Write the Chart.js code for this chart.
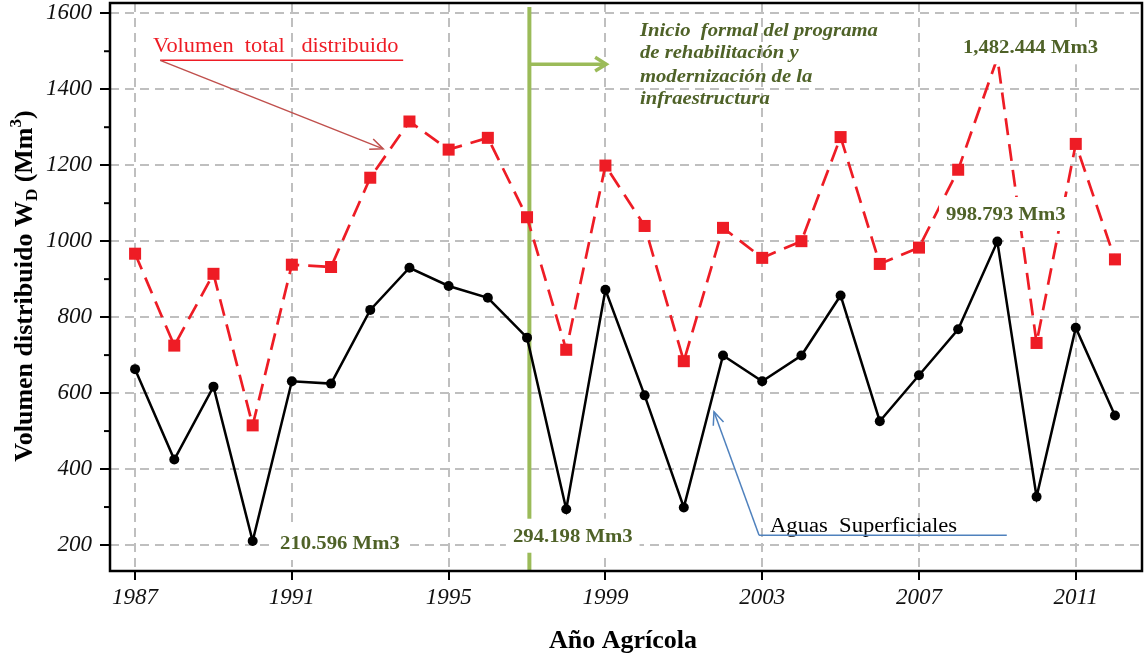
<!DOCTYPE html>
<html>
<head>
<meta charset="utf-8">
<script src="https://cdn.jsdelivr.net/npm/chart.js@4.4.0/dist/chart.umd.min.js"></script>
<style>
  html, body { margin: 0; padding: 0; background: #fff; }
</style>
</head>
<body>
<canvas id="chart" width="1146" height="655"></canvas>
<script>
// ====================================
// Data
// ====================================
const years = [1987, 1988, 1989, 1990, 1991, 1992, 1993, 1994, 1995, 1996, 1997, 1998, 1999,
               2000, 2001, 2002, 2003, 2004, 2005, 2006, 2007, 2008, 2009, 2010, 2011, 2012];
const volumenTotal = [967, 725, 914, 515, 938, 932, 1167, 1315, 1241, 1272, 1063, 714, 1199,
                      1040, 684, 1035, 956, 1000, 1274, 940, 983, 1188, 1482.444, 732, 1256, 952];
const aguasSuperficiales = [663, 425, 617, 210.596, 631, 625, 819, 930, 882, 851, 746, 294.198, 872,
                            594, 299, 699, 631, 699, 857, 526, 647, 768, 998.793, 327, 772, 541];
const xTicks = [1987, 1991, 1995, 1999, 2003, 2007, 2011];
const yTicks = [200, 400, 600, 800, 1000, 1200, 1400, 1600];
const yMinorTicks = [300, 500, 700, 900, 1100, 1300, 1500];

const programStart = 1997.06;
const SERIF = '"Liberation Serif", "Times New Roman", serif';
const OLIVE = '#4f6228';
const RED = '#ee1c25';

// ====================================
// Overlay drawing helpers
// ====================================
function arrowHead(ctx, x1, y1, x2, y2, len, spread) {
  const a = Math.atan2(y2 - y1, x2 - x1);
  ctx.beginPath();
  ctx.moveTo(x2 - len * Math.cos(a - spread), y2 - len * Math.sin(a - spread));
  ctx.lineTo(x2, y2);
  ctx.lineTo(x2 - len * Math.cos(a + spread), y2 - len * Math.sin(a + spread));
  ctx.stroke();
}

// the figure's annotation text is a bit wider than Liberation Serif
function stretchText(ctx, text, x, y, sx) {
  ctx.save();
  ctx.translate(x, y);
  ctx.scale(sx, 1);
  ctx.fillText(text, 0, 0);
  ctx.restore();
}

function boxedLabel(ctx, text, x, y) {
  const sx = 1.09;
  ctx.font = 'bold 19px ' + SERIF;
  const w = ctx.measureText(text).width * sx;
  ctx.fillStyle = '#fff';
  ctx.fillRect(x - 7, y - 23, w + 14, 34);
  ctx.fillStyle = OLIVE;
  ctx.textAlign = 'left';
  ctx.textBaseline = 'alphabetic';
  stretchText(ctx, text, x, y, sx);
}

const overlay = {
  id: 'overlay',
  beforeDraw(chart) {
    const ctx = chart.ctx;
    ctx.save();
    ctx.fillStyle = '#fff';
    ctx.fillRect(0, 0, chart.width, chart.height);
    ctx.restore();
  },
  beforeDatasetsDraw(chart) {
    const {ctx, chartArea, scales: {x, y}} = chart;
    const gx = x.getPixelForValue(programStart);
    ctx.save();
    ctx.strokeStyle = '#9bbb59';
    ctx.lineWidth = 4;
    ctx.beginPath();
    ctx.moveTo(gx, chartArea.top + 4);
    ctx.lineTo(gx, chartArea.bottom);
    ctx.stroke();
    // arrow towards the right
    const ay = y.getPixelForValue(1466);
    const ax2 = x.getPixelForValue(1999.02);
    ctx.lineWidth = 3.5;
    ctx.beginPath();
    ctx.moveTo(gx, ay);
    ctx.lineTo(ax2, ay);
    ctx.stroke();
    arrowHead(ctx, gx, ay, ax2, ay, 13, 0.55);
    ctx.restore();
  },
  afterDatasetsDraw(chart) {
    const {ctx, scales: {x, y}} = chart;
    const px = v => x.getPixelForValue(v);
    const py = v => y.getPixelForValue(v);
    ctx.save();

    // Volumen total distribuido
    ctx.font = '20px ' + SERIF;
    ctx.fillStyle = RED;
    ctx.textAlign = 'left';
    ctx.textBaseline = 'alphabetic';
    stretchText(ctx, 'Volumen  total   distribuido', px(1987.46), py(1498), 1.12);
    ctx.strokeStyle = RED;
    ctx.lineWidth = 1.5;
    ctx.beginPath();
    ctx.moveTo(px(1987.64), py(1476));
    ctx.lineTo(px(1993.84), py(1476));
    ctx.stroke();
    ctx.strokeStyle = '#c0504d';
    ctx.beginPath();
    ctx.moveTo(px(1987.64), py(1476));
    ctx.lineTo(px(1993.33), py(1243));
    ctx.stroke();
    arrowHead(ctx, px(1987.64), py(1476), px(1993.33), py(1243), 14, 0.4);

    // Aguas Superficiales
    ctx.fillStyle = '#000';
    stretchText(ctx, 'Aguas  Superficiales', px(2003.2), py(235), 1.13);
    ctx.strokeStyle = '#4f81bd';
    ctx.beginPath();
    ctx.moveTo(px(2002.92), py(226));
    ctx.lineTo(px(2009.24), py(226));
    ctx.stroke();
    ctx.beginPath();
    ctx.moveTo(px(2002.92), py(226));
    ctx.lineTo(px(2001.77), py(551));
    ctx.stroke();
    arrowHead(ctx, px(2002.92), py(226), px(2001.77), py(551), 14, 0.4);

    // value labels
    boxedLabel(ctx, '210.596 Mm3', px(1990.7), py(189.5));
    boxedLabel(ctx, '294.198 Mm3', px(1996.64), py(208.7));
    boxedLabel(ctx, '1,482.444 Mm3', px(2008.12), py(1494.6));
    boxedLabel(ctx, '998.793 Mm3', px(2007.69), py(1055.7));

    // programme note
    ctx.font = 'italic bold 18px ' + SERIF;
    ctx.fillStyle = OLIVE;
    const note = ['Inicio  formal del programa', 'de rehabilitación y',
                  'modernización de la', 'infraestructura'];
    const noteY = [1540, 1481.4, 1419.8, 1361];
    note.forEach((t, i) => stretchText(ctx, t, px(1999.88), py(noteY[i]), 1.15));
    ctx.restore();
  },
  afterDraw(chart) {
    const {ctx, chartArea, scales: {y}} = chart;
    ctx.save();
    // frame
    ctx.strokeStyle = '#000';
    ctx.lineWidth = 2.5;
    ctx.strokeRect(chartArea.left, chartArea.top,
                   chartArea.right - chartArea.left, chartArea.bottom - chartArea.top);
    // minor y ticks
    ctx.lineWidth = 2;
    yMinorTicks.forEach(v => {
      const yy = y.getPixelForValue(v);
      ctx.beginPath();
      ctx.moveTo(chartArea.left - 6, yy);
      ctx.lineTo(chartArea.left, yy);
      ctx.stroke();
    });

    // x title
    ctx.fillStyle = '#000';
    ctx.font = 'bold 26px ' + SERIF;
    ctx.textAlign = 'center';
    ctx.textBaseline = 'alphabetic';
    ctx.fillText('Año Agrícola', 623, 648);

    // y title with sub/superscript
    const parts = [
      {t: 'Volumen distribuido W', size: 26, dy: 0},
      {t: 'D', size: 17, dy: 5},
      {t: ' (Mm', size: 26, dy: 0},
      {t: '3', size: 17, dy: -11},
      {t: ')', size: 26, dy: 0}
    ];
    let total = 0;
    parts.forEach(p => {
      ctx.font = 'bold ' + p.size + 'px ' + SERIF;
      p.w = ctx.measureText(p.t).width;
      total += p.w;
    });
    ctx.translate(32, 286);
    ctx.rotate(-Math.PI / 2);
    ctx.textAlign = 'left';
    let cx = -total / 2;
    parts.forEach(p => {
      ctx.font = 'bold ' + p.size + 'px ' + SERIF;
      ctx.fillText(p.t, cx, p.dy);
      cx += p.w;
    });
    ctx.restore();
  }
};

// ====================================
// Chart
// ====================================
const tickFont = {family: SERIF, size: 23, style: 'italic'};

new Chart(document.getElementById('chart'), {
  type: 'line',
  data: {
    datasets: [
      {
        label: 'Volumen total distribuido',
        data: years.map((yr, i) => ({x: yr, y: volumenTotal[i]})),
        borderColor: RED,
        backgroundColor: RED,
        borderWidth: 2.7,
        borderDash: [17, 9],
        pointStyle: 'rect',
        pointRadius: 8.5,
        pointBorderWidth: 0,
        tension: 0
      },
      {
        label: 'Aguas Superficiales',
        data: years.map((yr, i) => ({x: yr, y: aguasSuperficiales[i]})),
        borderColor: '#000',
        backgroundColor: '#000',
        borderWidth: 2.5,
        pointStyle: 'circle',
        pointRadius: 5,
        pointBorderWidth: 0,
        tension: 0
      }
    ]
  },
  options: {
    responsive: false,
    animation: false,
    layout: {padding: {top: 3, right: 4, left: 0, bottom: 0}, autoPadding: false},
    plugins: {legend: {display: false}, tooltip: {enabled: false}},
    scales: {
      x: {
        type: 'linear',
        min: 1986.36,
        max: 2012.69,
        afterBuildTicks: s => { s.ticks = xTicks.map(v => ({value: v})); },
        afterFit: s => {
          s.height = 84;
          s.paddingLeft = 0; s.paddingRight = 0; s.paddingTop = 0; s.paddingBottom = 0;
        },
        ticks: {
          font: tickFont, color: '#111', padding: 4, maxRotation: 0, autoSkip: false,
          callback: v => String(v)
        },
        grid: {color: '#bfbfbf', lineWidth: 2, tickLength: 9, tickColor: '#000', tickWidth: 2},
        border: {display: false, dash: [9, 6]}
      },
      y: {
        min: 131.6,
        max: 1627,
        afterBuildTicks: s => { s.ticks = yTicks.map(v => ({value: v})); },
        afterFit: s => {
          s.width = 110;
          s.paddingLeft = 0; s.paddingRight = 0; s.paddingTop = 0; s.paddingBottom = 0;
        },
        ticks: {font: tickFont, color: '#111', padding: 8, callback: v => String(v)},
        grid: {color: '#bfbfbf', lineWidth: 2, tickLength: 10, tickColor: '#000', tickWidth: 2},
        border: {display: false, dash: [9, 6]}
      }
    }
  },
  plugins: [overlay]
});
</script>
</body>
</html>
